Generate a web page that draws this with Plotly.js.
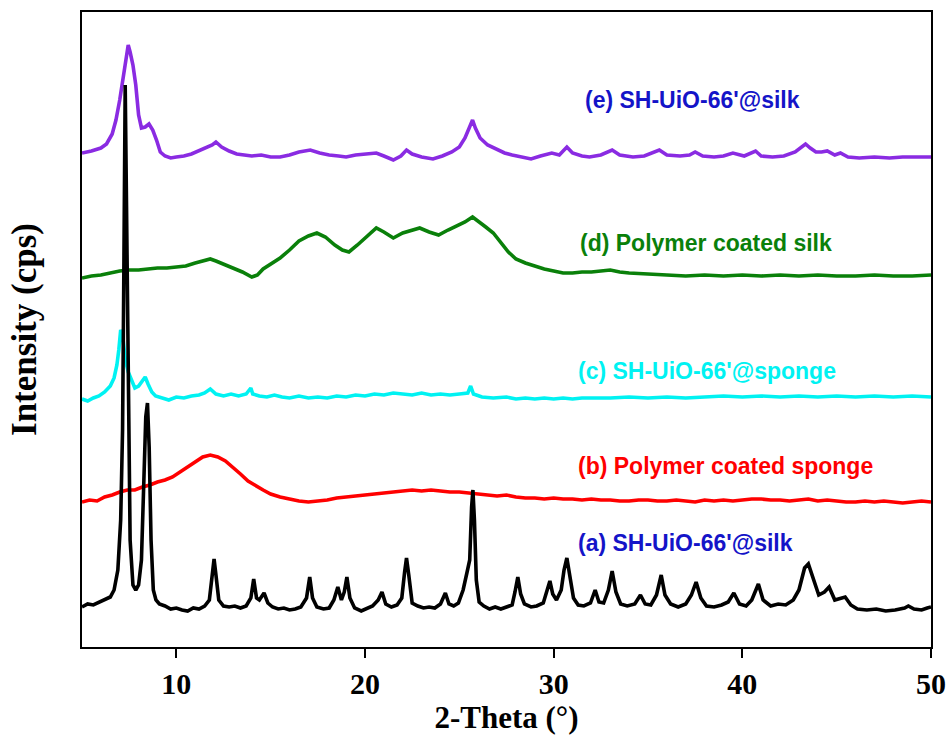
<!DOCTYPE html>
<html>
<head>
<meta charset="utf-8">
<script src="https://cdn.plot.ly/plotly-3.0.1.min.js"></script>
<style>html,body{margin:0;padding:0;background:#fff;}#chart{width:950px;height:740px;}</style>
</head>
<body>
<div id="chart"></div>
<script>
// Tick labels
const xTickVals = [10, 20, 30, 40, 50];
const seriesNames = ["(a) SH-UiO-66'@silk", "(b) Polymer coated sponge", "(c) SH-UiO-66'@sponge", "(d) Polymer coated silk", "(e) SH-UiO-66'@silk"];

// (a) SH-UiO-66'@silk  (black)
const aX = [5.0,5.3,5.6,5.9,6.2,6.5,6.7,6.9,7.05,7.15,7.22,7.29,7.36,7.45,7.55,7.7,7.85,8.0,8.15,8.28,8.38,8.47,8.56,8.66,8.78,8.92,9.1,9.4,9.7,10.0,10.3,10.6,10.9,11.2,11.5,11.75,11.9,12.0,12.1,12.25,12.5,12.8,13.1,13.4,13.7,13.95,14.1,14.25,14.4,14.65,14.85,15.1,15.4,15.7,16.0,16.3,16.6,16.9,17.07,17.22,17.45,17.8,18.1,18.35,18.56,18.75,18.9,19.04,19.2,19.45,19.8,20.1,20.4,20.7,20.9,21.1,21.4,21.7,21.95,22.1,22.2,22.32,22.5,22.8,23.1,23.4,23.7,24.0,24.26,24.45,24.7,24.95,25.2,25.4,25.55,25.65,25.72,25.8,25.9,26.05,26.3,26.6,26.9,27.2,27.5,27.8,27.95,28.1,28.25,28.45,28.8,29.1,29.45,29.65,29.8,29.95,30.15,30.4,30.55,30.7,30.85,31.05,31.3,31.6,31.95,32.2,32.4,32.65,32.9,33.1,33.3,33.55,33.9,34.3,34.6,34.85,35.15,35.45,35.7,35.9,36.2,36.6,37.0,37.3,37.55,37.8,38.1,38.5,38.9,39.25,39.55,39.85,40.2,40.5,40.85,41.1,41.5,41.9,42.3,42.7,43.0,43.3,43.5,43.75,44.05,44.35,44.6,44.9,45.2,45.45,45.75,46.1,46.6,47.1,47.6,48.1,48.6,48.8,49.1,49.5,49.8,50.0];
const aY = [40,43,42,45,47,50,57,77,127,217,380,562,440,247,107,62,57,62,87,167,230,244,200,107,57,47,43,41,38,39,37,36,39,38,41,47,72,88,72,47,41,40,41,39,41,49,68,49,47,54,44,40,38,39,37,38,40,49,70,49,40,38,39,47,60,47,55,70,49,39,36,39,41,47,55,43,40,42,49,75,89,72,44,41,39,40,39,43,54,43,41,44,57,74,87,140,157,127,67,45,41,38,40,38,40,42,55,70,53,43,40,41,44,57,66,53,47,57,77,89,72,49,42,41,44,57,45,44,57,76,55,43,41,43,52,43,42,52,72,52,43,40,43,52,65,49,41,40,42,45,54,43,41,47,63,47,41,43,42,47,57,79,83,69,52,55,60,47,49,50,42,38,37,38,36,37,39,41,38,37,39,40];

// (b) Polymer coated sponge  (red)
const bX = [5.0,5.4,5.8,6.2,6.6,7.0,7.4,7.8,8.2,8.6,9.0,9.4,9.8,10.2,10.6,11.0,11.4,11.8,12.2,12.6,13.0,13.4,13.8,14.2,14.6,15.0,15.5,16.0,16.5,17.0,17.5,18.0,18.5,19.0,19.5,20.0,20.5,21.0,21.5,22.0,22.5,23.0,23.5,24.0,24.5,25.0,25.5,26.0,26.5,27.0,27.5,28.0,28.5,29.0,29.5,30.0,30.5,31.0,31.5,32.0,32.5,33.0,33.5,34.0,34.5,35.0,35.5,36.0,36.5,37.0,37.5,38.0,38.5,39.0,39.5,40.0,40.5,41.0,41.5,42.0,42.5,43.0,43.5,44.0,44.5,45.0,45.5,46.0,46.5,47.0,47.5,48.0,48.5,49.0,49.5,50.0];
const bY = [145,147,146,150,152,155,157,157,160,162,165,167,170,175,181,186,190,192,190,186,180,173,166,161,157,153,150,148,146,145,146,147,149,150,151,152,153,154,155,156,157,156,157,156,155,155,154,153,152,151,152,150,149,149,148,149,148,148,147,148,147,147,146,146,147,147,146,146,147,146,145,147,146,147,146,147,148,148,147,147,146,147,148,146,147,146,145,145,146,145,146,145,144,145,146,145,145,144];

// (c) SH-UiO-66'@sponge  (cyan)
const cX = [5.0,5.3,5.6,5.9,6.2,6.5,6.7,6.85,6.95,7.05,7.15,7.3,7.45,7.6,7.8,8.0,8.2,8.35,8.5,8.7,8.9,9.2,9.6,10.0,10.4,10.8,11.2,11.5,11.8,12.1,12.5,12.9,13.3,13.7,13.95,14.05,14.4,14.8,15.2,15.6,16.0,16.5,17.0,17.5,18.0,18.5,19.0,19.5,20.0,20.5,21.0,21.5,22.0,22.5,23.0,23.5,24.0,24.5,25.0,25.45,25.6,25.75,26.2,26.8,27.5,28.0,28.5,29.0,29.5,30.0,30.5,31.0,31.5,32.0,33.0,34.0,35.0,36.0,37.0,38.0,39.0,40.0,41.0,42.0,43.0,44.0,45.0,46.0,47.0,48.0,49.0,50.0];
const cY = [248,246,249,251,255,261,269,282,297,317,312,287,275,267,259,261,267,270,263,255,251,249,247,250,249,251,252,254,258,253,251,253,251,253,259,253,251,250,252,250,249,251,249,250,249,251,250,252,251,253,252,254,253,252,254,252,253,252,253,254,261,253,250,249,250,248,249,248,249,248,249,248,249,249,249,250,249,250,249,250,251,250,251,250,251,250,251,250,251,250,251,250];

// (d) Polymer coated silk  (green)
const dX = [5.0,5.5,6.0,6.5,7.0,7.5,8.0,8.5,9.0,9.5,10.0,10.5,11.0,11.5,11.8,12.1,12.5,13.0,13.5,14.0,14.3,14.6,15.0,15.5,16.0,16.5,17.0,17.45,17.9,18.4,18.8,19.15,19.6,20.0,20.6,21.0,21.5,22.0,22.5,22.9,23.4,23.9,24.4,24.9,25.3,25.7,26.0,26.4,26.8,27.2,27.6,28.0,28.5,29.0,29.5,30.0,30.5,31.0,31.5,32.0,32.5,33.0,33.5,34.0,35.0,36.0,37.0,38.0,39.0,40.0,41.0,42.0,43.0,44.0,45.0,46.0,47.0,48.0,49.0,50.0];
const dY = [369,371,372,374,376,377,377,378,379,379,380,381,384,387,388,386,383,379,375,370,372,378,383,389,397,406,411,414,410,402,397,395,402,409,419,415,409,414,417,419,415,412,417,421,425,430,426,420,414,404,395,388,384,381,378,376,374,374,375,375,376,377,375,374,373,372,371,372,371,372,371,372,371,372,371,371,372,371,371,372];

// (e) SH-UiO-66'@silk  (purple)
const eX = [5.0,5.5,6.0,6.3,6.6,6.8,7.0,7.2,7.35,7.45,7.55,7.7,7.85,8.0,8.15,8.35,8.55,8.75,8.95,9.15,9.4,9.7,10.0,10.4,10.8,11.2,11.6,11.9,12.1,12.4,12.8,13.2,13.6,14.0,14.5,15.0,15.5,16.0,16.5,17.1,17.6,18.1,18.6,19.0,19.5,20.0,20.6,21.0,21.5,21.9,22.2,22.5,23.0,23.6,24.1,24.6,25.0,25.3,25.55,25.7,25.85,26.1,26.5,26.9,27.4,27.8,28.3,28.8,29.3,29.9,30.3,30.7,31.0,31.5,31.9,32.5,33.1,33.5,34.2,34.8,35.6,36.0,36.7,37.2,37.5,37.9,38.5,39.0,39.5,40.1,40.7,41.0,41.6,42.2,42.8,43.1,43.35,43.6,43.9,44.2,44.5,44.9,45.2,45.6,46.2,47.0,47.8,48.5,49.2,50.0];
const eY = [494,496,499,503,513,527,547,570,592,602,595,582,562,532,519,520,523,517,507,495,491,489,490,491,493,496,499,502,505,500,496,493,492,491,492,490,490,492,495,497,494,492,491,490,492,493,494,491,487,491,497,493,490,488,491,495,500,509,521,527,519,509,502,498,494,492,490,488,491,494,492,500,494,491,490,492,497,492,490,491,497,492,491,492,495,491,490,491,494,491,496,491,490,491,495,499,503,499,495,495,496,492,494,490,489,490,489,490,490,490];

const colors = ['#000000', '#ff0000', '#00f2f2', '#0a800a', '#8a2be2'];
const labelColors = ['#1414c8', '#ff0000', '#00f2f2', '#0a800a', '#1414c8'];
const labelY = [104, 181, 276, 404, 547];
const labelX = [31.2, 31.2, 31.2, 31.3, 31.55];

const xs = [aX, bX, cX, dX, eX];
const ys = [aY, bY, cY, dY, eY];
// draw order: e, d, c, b, a on top
const order = [4, 3, 2, 1, 0];
const traces = order.map(i => ({
  x: xs[i], y: ys[i], type: 'scatter', mode: 'lines', name: seriesNames[i],
  line: {color: colors[i], width: 3.6}, hoverinfo: 'x+y'
}));

const annotations = seriesNames.map((t, i) => ({
  x: labelX[i], y: labelY[i], xref: 'x', yref: 'y', text: t, showarrow: false,
  xanchor: 'left', yanchor: 'middle',
  font: {family: 'Liberation Sans, Arial, sans-serif', size: 23, weight: 'bold', color: labelColors[i]}
}));

const serif = 'Liberation Serif, Times New Roman, serif';
const layout = {
  width: 950, height: 740,
  margin: {l: 82, r: 19, t: 12, b: 93},
  paper_bgcolor: '#ffffff', plot_bgcolor: '#ffffff',
  showlegend: false,
  xaxis: {
    range: [5, 50], tickvals: xTickVals, ticks: 'outside', ticklen: 9, tickwidth: 2, tickcolor: '#000',
    showline: true, linecolor: '#000', linewidth: 2, mirror: true, showgrid: false, zeroline: false,
    tickfont: {family: serif, size: 30, weight: 'bold', color: '#000'},
    title: {text: '2-Theta (°)', font: {family: serif, size: 31, weight: 'bold', color: '#000'}, standoff: 6}
  },
  yaxis: {
    range: [0, 635], showticklabels: false, ticks: '',
    showline: true, linecolor: '#000', linewidth: 2, mirror: true, showgrid: false, zeroline: false,
    title: {text: 'Intensity (cps)', font: {family: serif, size: 35, weight: 'bold', color: '#000'}, standoff: 33}
  },
  annotations: annotations
};

Plotly.newPlot('chart', traces, layout, {displayModeBar: false, staticPlot: true});
</script>
</body>
</html>
